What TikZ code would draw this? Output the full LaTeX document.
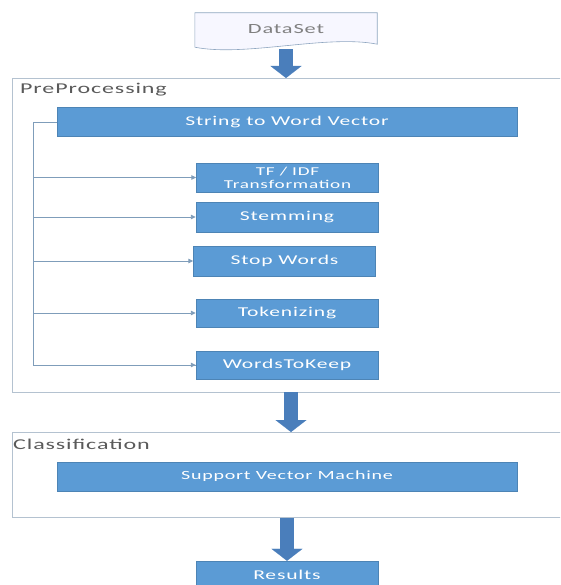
\documentclass[tikz,border=0pt]{standalone}
\usepackage{fontspec}
\setmainfont{Carlito}[FakeStretch=1.6,LetterSpace=6]
\usepackage{xcolor}
\usetikzlibrary{arrows.meta,positioning,backgrounds}
\definecolor{boxblue}{HTML}{5B9BD5}
\definecolor{flowblue}{HTML}{4A7EBB}
\definecolor{linkgray}{HTML}{7F9DBA}
\definecolor{panelgray}{HTML}{B4C2D0}
\definecolor{labelgray}{HTML}{5A5A5A}
\definecolor{docgray}{HTML}{8FA6C0}
\tikzset{
	stepbox/.style={fill=boxblue, draw=boxblue!85!black, line width=0.4pt, text=white, minimum width=182pt, minimum height=29pt, inner sep=0pt, align=center, font=\fontsize{13.5}{15}\selectfont},
	panel/.style={draw=panelgray, line width=0.8pt, anchor=north west, inner sep=0pt},
	seclabel/.style={anchor=west, text=labelgray, inner sep=0pt, font=\fontsize{15}{17}\selectfont},
	link/.style={draw=linkgray, line width=0.9pt},
	linkto/.style={link, -{Triangle[length=5pt,width=4.5pt]}},
	flow/.style={draw=flowblue, line width=14pt, -{Triangle[width=31pt,length=12pt,line width=0.1pt]}}
}

\begin{document}
\begin{tikzpicture}[x=1pt,y=-1pt]
		\clip (0,0) rectangle (560,585);
		% source document
		\node[minimum width=182pt, minimum height=33pt, inner sep=0pt, text=gray, font=\fontsize{14}{16}\selectfont] (data) at (286,29.5) {DataSet};
		\begin{scope}[on background layer]
			\draw[draw=docgray, fill=blue!3, line width=0.6pt] (data.north west) -- (data.north east) -- ([yshift=2pt]data.south east) .. controls +(-50,-10) and +(50,10) .. ([yshift=-1pt]data.south west) -- cycle;
		\end{scope}
		% preprocessing panel
		\node[panel, minimum width=570pt, minimum height=314pt] (pre) at (12,78) {};
		\node[seclabel] (prelabel) at (20,90) {PreProcessing};
		\node[stepbox, minimum width=460pt] (s2w) at (287,122) {String to Word Vector};
		\node[stepbox, font=\fontsize{12}{13}\selectfont] (tfidf) at (287.5,177.5) {TF / IDF\\Transformation};
		\node[stepbox, minimum height=30pt] (stem) at (287,217) {Stemming};
		\node[stepbox, minimum height=30pt] (stop) at (284.5,261) {Stop Words};
		\node[stepbox, minimum height=28pt] (token) at (287,313) {Tokenizing};
		\node[stepbox, minimum height=28pt] (keep) at (287,365) {WordsToKeep};
		\draw[link] (s2w.west) -- ++(-23,0) |- (keep.west);
		\foreach \n in {tfidf,stem,stop,token,keep}
			\draw[linkto] (s2w.west) -- ++(-23,0) |- (\n.west);
		% classification panel
		\node[panel, minimum width=570pt, minimum height=85pt] (cls) at (12,432) {};
		\node[seclabel] (clslabel) at (13,444) {Classification};
		\node[stepbox, minimum width=460pt, font=\fontsize{12.5}{14}\selectfont] (svm) at (287,476.5) {Support Vector Machine};
		\node[stepbox, minimum height=28pt] (res) at (287,575) {Results};
		% block arrows
		\draw[flow] ([yshift=-3pt]data.south) -- (data.south |- pre.north);
		\draw[flow] (291,392) -- (291,432);
		\draw[flow] (res.north |- cls.south) -- (res.north);
		\end{tikzpicture}
\end{document}
